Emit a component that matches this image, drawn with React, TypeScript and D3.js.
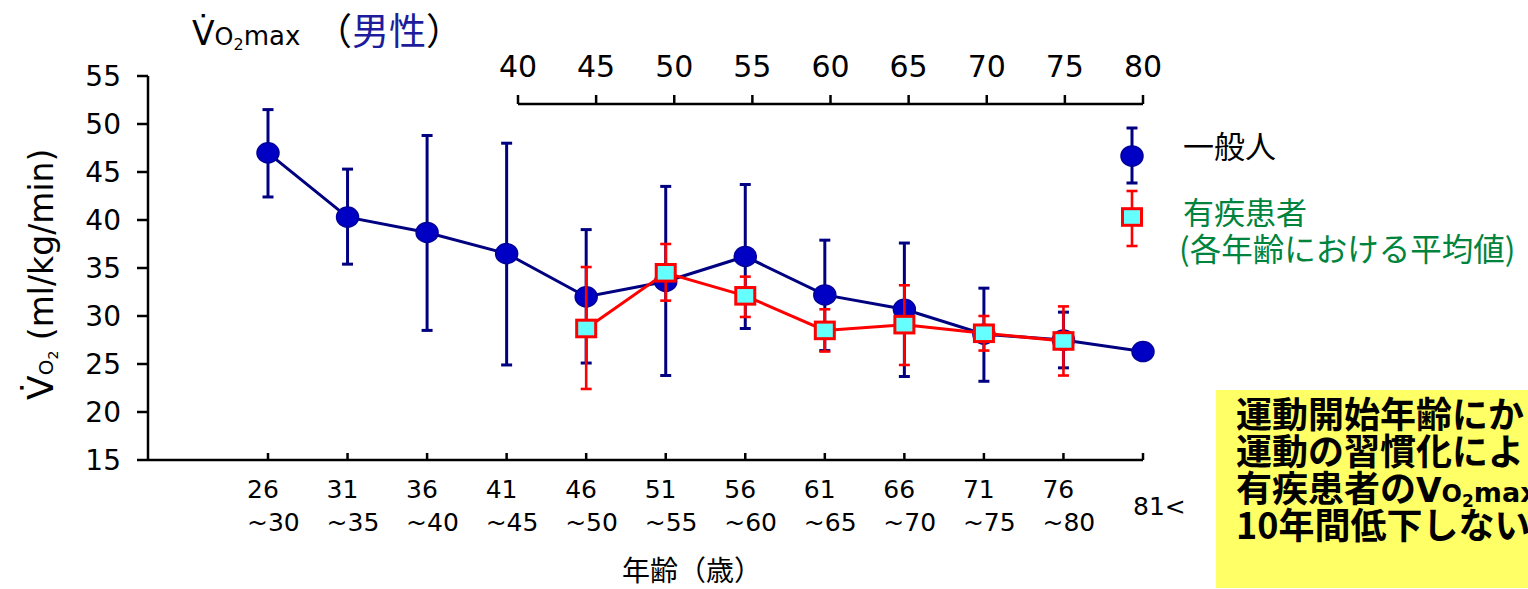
import React from "react";
import * as d3 from "d3";

const ageGroups = ["26~30", "31~35", "36~40", "41~45", "46~50", "51~55", "56~60", "61~65", "66~70", "71~75", "76~80", "81<"];
const ageFrom = ["26", "31", "36", "41", "46", "51", "56", "61", "66", "71", "76", "81<"];
const ageTo = ["~30", "~35", "~40", "~45", "~50", "~55", "~60", "~65", "~70", "~75", "~80", ""];

const generalMean: (number | null)[] = [47.0, 40.3, 38.7, 36.5, 32.0, 33.6, 36.2, 32.2, 30.7, 28.1, 27.5, 26.3];
const generalUpper: (number | null)[] = [51.5, 45.3, 48.8, 48.0, 39.0, 43.5, 43.7, 37.9, 37.6, 32.9, 30.4, null];
const generalLower: (number | null)[] = [42.4, 35.4, 28.5, 24.9, 25.1, 23.8, 28.7, 26.4, 23.7, 23.2, 24.6, null];

const patientMean: (number | null)[] = [null, null, null, null, 28.7, 34.5, 32.1, 28.5, 29.1, 28.2, 27.4, null];
const patientUpper: (number | null)[] = [null, null, null, null, 35.1, 37.5, 34.1, 30.7, 33.2, 30.0, 31.0, null];
const patientLower: (number | null)[] = [null, null, null, null, 22.4, 31.6, 29.9, 26.3, 24.9, 26.4, 23.8, null];

const yTicks = [15, 20, 25, 30, 35, 40, 45, 50, 55];
const startAgeTicks = [40, 45, 50, 55, 60, 65, 70, 75, 80];

const noteLines = ["運動開始年齢にか", "運動の習慣化によ", "有疾患者の", "10年間低下しない"];

const NAVY = "#000080";
const BLUE_FILL = "#0000C4";
const RED = "#FF0000";
const CYAN = "#66FFFF";
const GREEN = "#00843D";
const LATIN = "'DejaVu Sans', Verdana, sans-serif";
const CJK = "'Noto Sans CJK JP', 'Noto Sans', sans-serif";

export default function App() {
  const W = 1528;
  const H = 589;
  const x = d3.scalePoint<string>().domain(ageGroups).range([268, 1143]);
  const y = d3.scaleLinear().domain([15, 55]).range([460, 76]);
  const xTop = d3.scaleLinear().domain([40, 80]).range([518, 1143]);

  const xi = (i: number) => x(ageGroups[i]) as number;
  const idx = ageGroups.map((_, i) => i);

  const genLine = d3
    .line<number>()
    .defined((i) => generalMean[i] != null)
    .x((i) => xi(i))
    .y((i) => y(generalMean[i] as number));
  const patLine = d3
    .line<number>()
    .defined((i) => patientMean[i] != null)
    .x((i) => xi(i))
    .y((i) => y(patientMean[i] as number));

  const errBar = (cx: number, y1: number, y2: number, color: string, sw: number, key: string) => (
    <g key={key} stroke={color} strokeWidth={sw}>
      <line x1={cx} x2={cx} y1={y1} y2={y2} />
      <line x1={cx - 5.5} x2={cx + 5.5} y1={y1} y2={y1} />
      <line x1={cx - 5.5} x2={cx + 5.5} y1={y2} y2={y2} />
    </g>
  );

  const circle = (cx: number, cy: number, key: string) => (
    <ellipse key={key} cx={cx} cy={cy} rx={11} ry={10} fill={BLUE_FILL} stroke="#00009A" strokeWidth={1.5} />
  );
  const square = (cx: number, cy: number, key: string) => (
    <rect key={key} x={cx - 9.5} y={cy - 8.3} width={19} height={16.6} fill={CYAN} stroke={RED} strokeWidth={3} />
  );

  return (
    <svg width={W} height={H} style={{ position: "absolute", left: 0, top: 0, display: "block" }}>
      <rect width={W} height={H} fill="#ffffff" />

      {/* Title */}
      <text x={192} y={45} fontFamily={LATIN} fill="#000">
        <tspan fontSize={33}>{"V\u0307"}</tspan>
        <tspan fontSize={24}>O</tspan>
        <tspan fontSize={16} dy={5}>2</tspan>
        <tspan fontSize={26} dy={-5}>max</tspan>
      </text>
      <text x={315} y={45} fontFamily={CJK} fontSize={37} fill="#000">
        <tspan>（</tspan>
        <tspan fill="#1C1C9C">男性</tspan>
        <tspan>）</tspan>
      </text>

      {/* Y axis */}
      <g stroke="#000" strokeWidth={2.5} fill="none">
        <line x1={148} x2={148} y1={y(55)} y2={y(15)} />
        {yTicks.map((t) => (
          <line key={t} x1={137} x2={148} y1={y(t)} y2={y(t)} />
        ))}
      </g>
      {yTicks.map((t) => (
        <text key={"yl" + t} x={121} y={y(t)} dy="0.36em" textAnchor="end" fontFamily={LATIN} fontSize={28} fill="#000">
          {t}
        </text>
      ))}
      <text transform="translate(53,400) rotate(-90)" fontFamily={LATIN} fill="#000">
        <tspan fontSize={36}>{"V\u0307"}</tspan>
        <tspan fontSize={20}>O</tspan>
        <tspan fontSize={14} dy={5}>2</tspan>
        <tspan fontSize={33} dy={-5}>{" (ml/kg/min)"}</tspan>
      </text>

      {/* Bottom axis */}
      <g stroke="#000" strokeWidth={2.5} fill="none">
        <line x1={148} x2={xi(ageGroups.length - 1)} y1={460} y2={460} />
        {idx.map((i) => (
          <line key={i} x1={xi(i)} x2={xi(i)} y1={453} y2={460} />
        ))}
      </g>
      {idx.map((i) =>
        ageTo[i] ? (
          <g key={"xl" + i}>
            <text x={xi(i) - 21} y={498} fontFamily={LATIN} fontSize={25} fill="#000">
              {ageFrom[i]}
            </text>
            <text x={xi(i) - 21} y={531} fontFamily={LATIN} fontSize={25} fill="#000">
              {ageTo[i]}
            </text>
          </g>
        ) : (
          <text key={"xl" + i} x={xi(i) - 10} y={515} fontFamily={LATIN} fontSize={25} fill="#000">
            {ageFrom[i]}
          </text>
        )
      )}
      <text x={692} y={581} textAnchor="middle" fontFamily={CJK} fontSize={28} fill="#000">
        年齢（歳）
      </text>

      {/* Top axis: exercise start age */}
      <g stroke="#000" strokeWidth={2.5} fill="none">
        <line x1={xTop(40)} x2={xTop(80)} y1={104} y2={104} />
        {startAgeTicks.map((t) => (
          <line key={t} x1={xTop(t)} x2={xTop(t)} y1={95} y2={104} />
        ))}
      </g>
      {startAgeTicks.map((t) => (
        <text key={"tl" + t} x={xTop(t)} y={77} textAnchor="middle" fontFamily={LATIN} fontSize={30} fill="#000">
          {t}
        </text>
      ))}

      {/* General population series */}
      <path d={genLine(idx) || ""} fill="none" stroke={NAVY} strokeWidth={3} />
      {idx.map((i) =>
        generalUpper[i] != null && generalLower[i] != null
          ? errBar(xi(i), y(generalUpper[i] as number), y(generalLower[i] as number), NAVY, 3, "ge" + i)
          : null
      )}
      {idx.map((i) => (generalMean[i] != null ? circle(xi(i), y(generalMean[i] as number), "gm" + i) : null))}

      {/* Patient series */}
      <path d={patLine(idx) || ""} fill="none" stroke={RED} strokeWidth={3} />
      {idx.map((i) =>
        patientUpper[i] != null && patientLower[i] != null
          ? errBar(xi(i), y(patientUpper[i] as number), y(patientLower[i] as number), RED, 2.6, "pe" + i)
          : null
      )}
      {idx.map((i) => (patientMean[i] != null ? square(xi(i), y(patientMean[i] as number), "pm" + i) : null))}

      {/* Legend */}
      {errBar(1132, 128, 183, NAVY, 3, "lg1")}
      {circle(1132, 156, "lgc")}
      {errBar(1132, 191, 246, RED, 2.6, "lg2")}
      {square(1132, 217, "lgs")}
      <text x={1183} y={158} fontFamily={CJK} fontSize={31} fill="#000">
        一般人
      </text>
      <text x={1183} y={224} fontFamily={CJK} fontSize={31} fill={GREEN}>
        有疾患者
      </text>
      <text x={1179} y={261} fontFamily={CJK} fontSize={31.5} fill={GREEN}>
        (各年齢における平均値)
      </text>

      {/* Note box */}
      <rect x={1216} y={390} width={W - 1216} height={198} fill="#FFFF66" />
      <g fontFamily={CJK} fontWeight={700} fontSize={36} fill="#000">
        <text x={1236} y={428}>{noteLines[0]}</text>
        <text x={1236} y={465}>{noteLines[1]}</text>
        <text x={1236} y={502}>
          <tspan>{noteLines[2]}</tspan>
          <tspan fontFamily={LATIN} fontSize={33}>V</tspan>
          <tspan fontFamily={LATIN} fontSize={24}>O</tspan>
          <tspan fontFamily={LATIN} fontSize={17} dy={5}>2</tspan>
          <tspan fontFamily={LATIN} fontSize={27} dy={-5}>max</tspan>
        </text>
        <text x={1236} y={539}>{noteLines[3]}</text>
      </g>
    </svg>
  );
}
